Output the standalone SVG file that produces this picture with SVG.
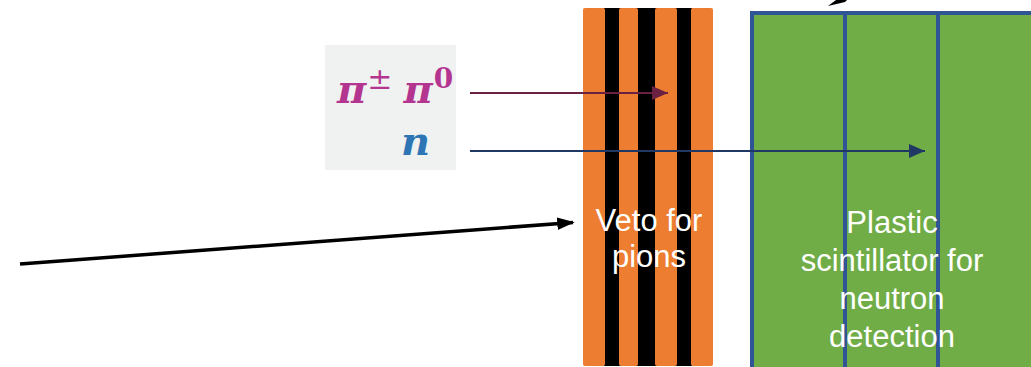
<svg xmlns="http://www.w3.org/2000/svg" width="1031" height="367" viewBox="0 0 1031 367">
<style>
.or{fill:#ED7D31}
.lbl{font-family:"Liberation Sans",Arial,sans-serif;fill:#FFFFFF;text-anchor:middle}
.math{font-family:"DejaVu Serif","Liberation Serif",serif;font-weight:bold;font-style:italic}
</style>
<defs>
<marker id="hk" markerWidth="5" markerHeight="3.6" refX="4.5" refY="1.8" orient="auto" markerUnits="strokeWidth"><path d="M0,0 L5,1.8 L0,3.6 z" fill="#000"/></marker>
<marker id="hp" markerWidth="8" markerHeight="7" refX="8" refY="3.5" orient="auto" markerUnits="strokeWidth"><path d="M0,0 L8,3.5 L0,7 z" fill="#6B2142"/></marker>
<marker id="hn" markerWidth="8" markerHeight="7" refX="8" refY="3.5" orient="auto" markerUnits="strokeWidth"><path d="M0,0 L8,3.5 L0,7 z" fill="#1F3864"/></marker>
</defs>
<rect width="1031" height="367" fill="#FFFFFF"/>
<g id="particles">
<rect x="325" y="45" width="131" height="125" fill="#F0F1F1"/>
<text class="math" x="337" y="103" font-size="40" fill="#B4358F">π<tspan font-size="30" font-style="normal" font-weight="normal" dx="1" dy="-14">±</tspan><tspan dx="11" dy="14">π</tspan><tspan font-size="28" font-style="normal" dx="1" dy="-15">0</tspan></text>
<text class="math" x="401" y="155" font-size="40" fill="#2E75B6">n</text>
</g>
<g id="veto">
<rect x="604" y="8" width="88" height="358" fill="#000"/>
<rect class="or" x="583" y="8" width="22" height="358" rx="2"/>
<rect class="or" x="619" y="8" width="19" height="358" rx="2"/>
<rect class="or" x="655" y="8" width="22" height="358" rx="2"/>
<rect class="or" x="691" y="8" width="22" height="358" rx="2"/>
<text class="lbl" x="649" y="231" font-size="31">Veto for</text>
<text class="lbl" x="649" y="267" font-size="31">pions</text>
</g>
<g id="scintillator">
<rect x="752" y="13" width="300" height="380" fill="#70AD47" stroke="#2F5597" stroke-width="4"/>
<line x1="845" y1="13" x2="845" y2="367" stroke="#2F5597" stroke-width="4"/>
<line x1="938" y1="13" x2="938" y2="367" stroke="#2F5597" stroke-width="4"/>
<text class="lbl" x="892" y="233" font-size="31">Plastic</text>
<text class="lbl" x="892" y="271" font-size="31">scintillator for</text>
<text class="lbl" x="892" y="309" font-size="31">neutron</text>
<text class="lbl" x="892" y="347" font-size="31">detection</text>
</g>
<g id="connectors">
<line x1="20" y1="264" x2="573" y2="222.5" stroke="#000" stroke-width="3.5" marker-end="url(#hk)"/>
<line x1="470" y1="93" x2="668" y2="93" stroke="#6B2142" stroke-width="2" marker-end="url(#hp)"/>
<line x1="470" y1="151" x2="925" y2="151" stroke="#1F3864" stroke-width="2" marker-end="url(#hn)"/>
<polygon points="828,6 836,0 847,0 845,2" fill="#000"/>
</g>
</svg>
